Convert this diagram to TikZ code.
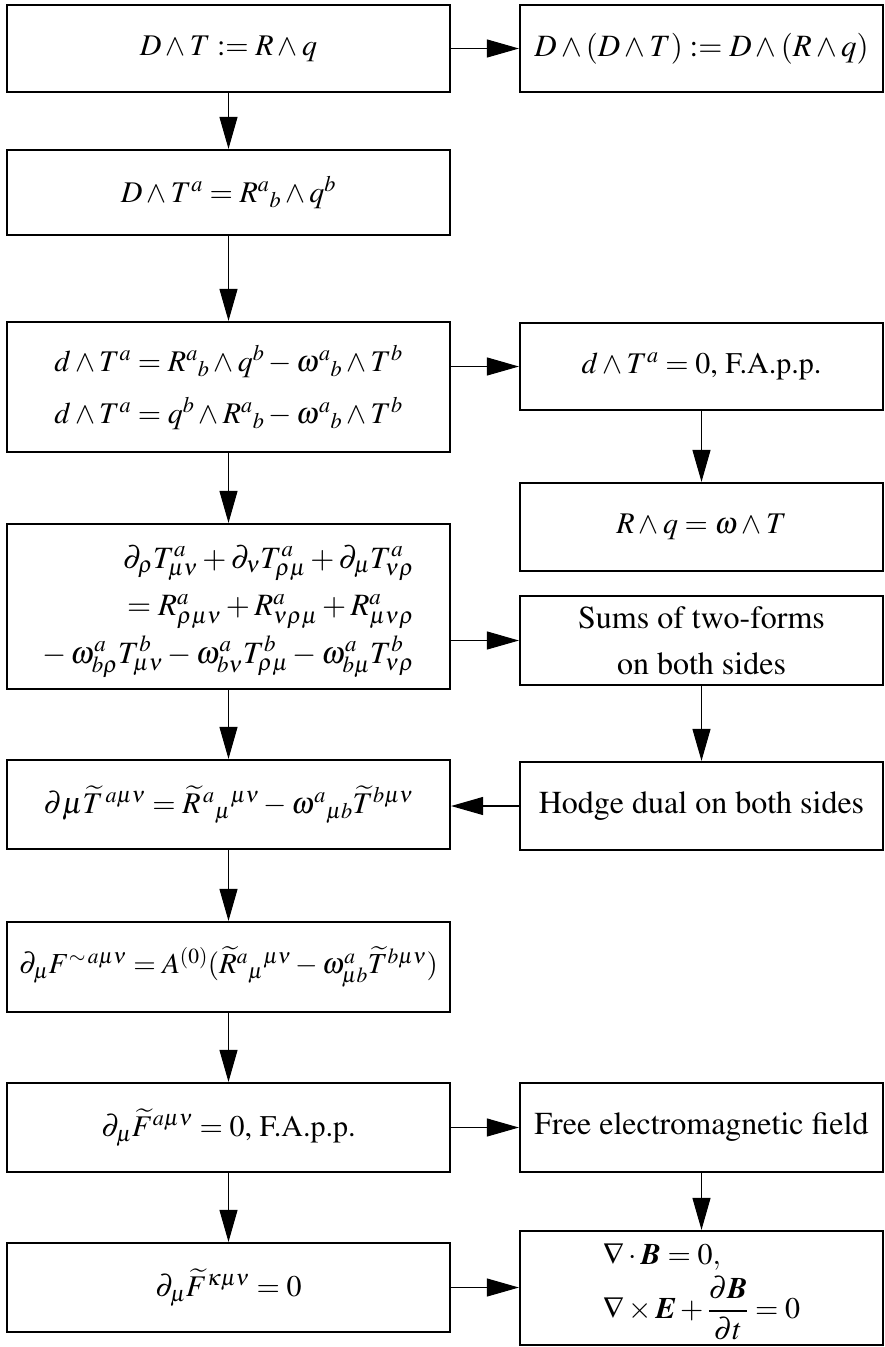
\documentclass[tikz,border=0pt]{standalone}
\usepackage[T1]{fontenc}
\usepackage{mathptmx}
\usepackage{amsmath}
\usetikzlibrary{arrows.meta}
\newcommand\bvec[1]{\mbox{\bfseries\itshape #1}}
\begin{document}
\begin{tikzpicture}[x=1pt,y=-1pt,
  box/.style={draw, line width=2.2pt, minimum width=443pt, inner sep=0pt, align=center,
    font=\fontsize{30}{36}\selectfont},
  rbox/.style={box, minimum width=363pt},
  tbox/.style={rbox, font=\fontsize{32}{46}\selectfont},
  conn/.style={line width=1.1pt, -{Triangle[length=32pt,width=18pt]}}]
\useasboundingbox (0,0) rectangle (885,1347);
% left column
\node[box, minimum height=87pt] (b1) at (228.5,48.5) {$D\wedge T := R\wedge q$};
\node[box, minimum height=85pt] (b3) at (228.5,192.5) {$D\wedge T^{a} = R^{a}{}_{b}\wedge q^{b}$};
\node[box, minimum height=130pt] (b4) at (228.5,387) {$\def\arraystretch{1.45}\begin{array}{c}
  d\wedge T^{a} = R^{a}{}_{b}\wedge q^{b} - \omega^{a}{}_{b}\wedge T^{b}\\
  d\wedge T^{a} = q^{b}\wedge R^{a}{}_{b} - \omega^{a}{}_{b}\wedge T^{b}\end{array}$};
\node[box, minimum height=165pt, font=\fontsize{31}{36}\selectfont] (b5) at (228.5,606.5) {$\def\arraystretch{1.32}\begin{array}{r}
  \partial_{\rho}T^{a}_{\mu\nu} + \partial_{\nu}T^{a}_{\rho\mu} + \partial_{\mu}T^{a}_{\nu\rho}\\
  = R^{a}_{\rho\mu\nu} + R^{a}_{\nu\rho\mu} + R^{a}_{\mu\nu\rho}\\
  -\,\omega^{a}_{b\rho}T^{b}_{\mu\nu} - \omega^{a}_{b\nu}T^{b}_{\rho\mu} - \omega^{a}_{b\mu}T^{b}_{\nu\rho}\end{array}$};
\node[box, minimum height=89pt] (b6) at (228.5,804.5) {$\partial\mu\widetilde{T}^{\,a\mu\nu} = \widetilde{R}^{\,a}{}_{\mu}{}^{\mu\nu} - \omega^{a}{}_{\mu b}\widetilde{T}^{b\mu\nu}$};
\node[box, minimum height=90pt, font=\fontsize{29}{36}\selectfont] (b7) at (228.5,967) {$\partial_{\mu}F^{\sim\,a\mu\nu} = A^{(0)}(\widetilde{R}^{a}{}_{\mu}{}^{\mu\nu} - \omega^{a}_{\mu b}\widetilde{T}^{b\mu\nu})$};
\node[box, minimum height=89pt] (b8) at (228.5,1127.5) {$\partial_{\mu}\widetilde{F}^{a\mu\nu} = 0$, F.A.p.p.};
\node[box, minimum height=89pt] (b9) at (228.5,1287.5) {$\partial_{\mu}\widetilde{F}^{\kappa\mu\nu} = 0$};
% right column
\node[rbox, minimum height=87pt, font=\fontsize{31}{36}\selectfont] (r1) at (701.5,48.5) {$D\wedge(D\wedge T) := D\wedge(R\wedge q)$};
\node[rbox, minimum height=87pt] (r2) at (701.5,366.5) {$d\wedge T^{a} = 0$, F.A.p.p.};
\node[rbox, minimum height=88pt] (r3) at (701.5,527) {$R\wedge q = \omega\wedge T$};
\node[tbox, minimum height=89pt] (r4) at (701.5,640.5) {Sums of two-forms\\on both sides};
\node[tbox, minimum height=88pt] (r5) at (701.5,806) {Hodge dual on both sides};
\node[tbox, minimum height=89pt] (r6) at (701.5,1127.5) {Free electromagnetic field};
\node[rbox, minimum height=114pt] (r7) at (701.5,1288) {$\def\arraystretch{1.1}\begin{array}{l}
  \nabla\cdot\bvec{B} = 0,\\
  \nabla\times\bvec{E} + \dfrac{\partial\bvec{B}}{\partial t} = 0\end{array}$};
% connectors
\draw[conn] (b1.east) -- (r1.west);
\draw[conn] (b1.south) -- (b3.north);
\draw[conn] (b3.south) -- (b4.north);
\draw[conn] (b4.east |- r2.west) -- (r2.west);
\draw[conn] (r2.south) -- (r3.north);
\draw[conn] (b4.south) -- (b5.north);
\draw[conn] (b5.east |- r4.west) -- (r4.west);
\draw[conn] (r4.south) -- (r5.north);
\draw[conn] (r5.west) -- (b6.east |- r5.west);
\draw[conn] (b5.south) -- (b6.north);
\draw[conn] (b6.south) -- (b7.north);
\draw[conn] (b7.south) -- (b8.north);
\draw[conn] (b8.east) -- (r6.west);
\draw[conn] (r6.south) -- (r7.north);
\draw[conn] (b8.south) -- (b9.north);
\draw[conn] (b9.east) -- (r7.west |- b9.east);
\end{tikzpicture}
\end{document}
